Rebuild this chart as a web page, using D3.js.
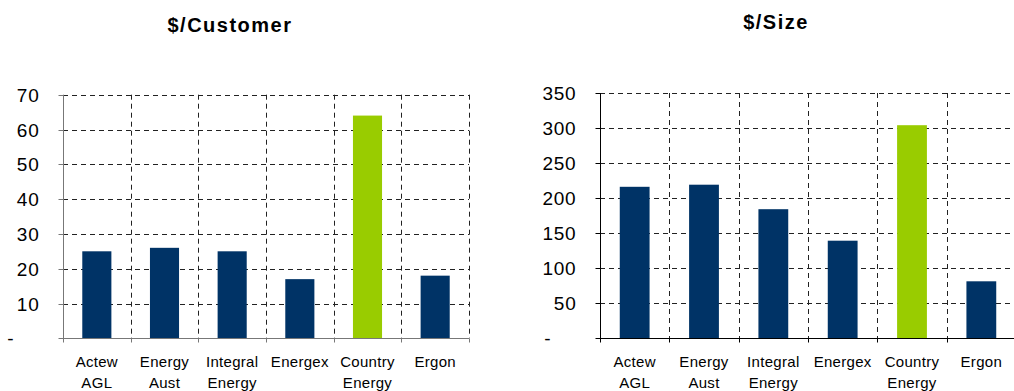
<!DOCTYPE html>
<html>
<head>
<meta charset="utf-8">
<script src="https://cdn.jsdelivr.net/npm/d3@7"></script>
<style>
  body { margin: 0; background: #fff; }
  svg { display: block; font-family: Arial, "Liberation Sans", sans-serif; }
</style>
</head>
<body>
<svg id="chart" width="1014" height="391"></svg>
<script>
// data
var categories = ["Actew\nAGL", "Energy\nAust", "Integral\nEnergy", "Energex", "Country\nEnergy", "Ergon"]
var perCustomer = [25, 26, 25, 17, 64, 18]
var perSize = [216, 219, 184, 139, 304, 81]
var customerTicks = [0, 10, 20, 30, 40, 50, 60, 70]
var sizeTicks = [0, 50, 100, 150, 200, 250, 300, 350]
var highlight = "Country\nEnergy"

var svg = d3.select('#chart')

function panel(opts){
    var g = svg.append('g')
    var x = d3.scaleBand().domain(categories).range([opts.left, opts.right]).padding(0)
    var y = d3.scaleLinear().domain([0, d3.max(opts.ticks)]).range([opts.bottom, opts.top])
    var barW = x.bandwidth() * 0.43
    var edges = categories.map(c => x(c)).concat([opts.right])

    // title
    g.append('text')
        .attr('x', opts.titleX).attr('y', opts.titleY)
        .attr('text-anchor', 'middle')
        .attr('font-weight', 'bold').attr('font-size', 20)
        .attr('letter-spacing', 1.5)
        .text(opts.title)

    // dashed grid
    var grid = g.append('g').attr('stroke', '#222').attr('stroke-width', 1).attr('stroke-dasharray', '5,4')
    grid.selectAll('.h').data(opts.ticks.slice(1)).enter().append('line')
        .attr('x1', opts.left).attr('x2', opts.right)
        .attr('y1', d => Math.round(y(d)) + 0.5).attr('y2', d => Math.round(y(d)) + 0.5)
    grid.selectAll('.v').data(edges.slice(1)).enter().append('line')
        .attr('x1', d => Math.round(d) + 0.5).attr('x2', d => Math.round(d) + 0.5)
        .attr('y1', opts.top).attr('y2', opts.bottom)

    // bars
    g.selectAll('.bar').data(opts.values).enter().append('rect')
        .attr('x', (d, i) => x(categories[i]) + (x.bandwidth() - barW) / 2)
        .attr('width', barW)
        .attr('y', d => y(d))
        .attr('height', d => y(0) - y(d))
        .attr('fill', (d, i) => categories[i] == highlight ? '#99cc00' : '#003366')

    // y axis
    var yAxis = g.append('g')
        .attr('transform', 'translate(' + (Math.round(opts.left) + 0.5) + ',0)')
        .call(d3.axisLeft(y).tickValues(opts.ticks).tickSize(5).tickPadding(19)
            .tickFormat(d => d == 0 ? '-' : d))
    yAxis.select('.domain').remove()
    yAxis.append('line').attr('y1', opts.top).attr('y2', opts.bottom).attr('stroke', opts.axisColor)
    yAxis.selectAll('.tick line').attr('stroke', opts.axisColor)
    yAxis.selectAll('.tick text')
        .attr('font-size', 19).attr('letter-spacing', 0.8).attr('fill', '#000')
        .attr('font-family', 'Arial, "Liberation Sans", sans-serif')
        .attr('dx', d => d == 0 ? -25 : 0)
    yAxis.selectAll('.tick').attr('transform', d => 'translate(0,' + (Math.round(y(d)) + 0.5) + ')')

    // x axis
    var base = Math.round(y(0)) + 0.5
    var xAxis = g.append('g')
    xAxis.append('line').attr('x1', opts.left).attr('x2', opts.right)
        .attr('y1', base).attr('y2', base).attr('stroke', opts.axisColor)
    xAxis.selectAll('.xt').data(edges).enter().append('line')
        .attr('x1', d => Math.round(d) + 0.5).attr('x2', d => Math.round(d) + 0.5)
        .attr('y1', base).attr('y2', base + 4).attr('stroke', opts.axisColor)
    var labels = xAxis.selectAll('.xl').data(categories).enter().append('text')
        .attr('text-anchor', 'middle').attr('font-size', 15).attr('letter-spacing', 0.3)
        .attr('y', base + 28)
    labels.selectAll('tspan').data(d => d.split('\n').map(s => ({s: s, c: d}))).enter().append('tspan')
        .attr('x', d => x(d.c) + x.bandwidth() / 2)
        .attr('dy', (d, i) => i == 0 ? 0 : 21)
        .text(d => d.s)
}

panel({
    title: '$/Customer', titleX: 230, titleY: 32,
    values: perCustomer, ticks: customerTicks,
    left: 63, right: 469, top: 94.7, bottom: 338.3,
    axisColor: '#777'
})
panel({
    title: '$/Size', titleX: 776, titleY: 29,
    values: perSize, ticks: sizeTicks,
    left: 600, right: 1016, top: 93, bottom: 338,
    axisColor: '#000'
})
</script>
</body>
</html>
